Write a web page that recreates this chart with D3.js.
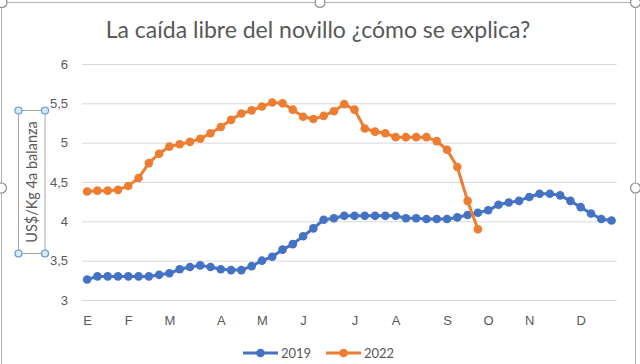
<!DOCTYPE html>
<html>
<head>
<meta charset="utf-8">
<script src="https://cdn.jsdelivr.net/npm/d3@7"></script>
<style>
  body { margin: 0; background: #fff; }
  svg { display: block; font-family: Lato, "Open Sans", sans-serif; }
</style>
</head>
<body>
<div id="chart"></div>
<script>
// weekly prices, US$/kg 4a balanza
const weeks = d3.range(52);
const monthLabels = ["E", "F", "M", "A", "M", "J", "J", "A", "S", "O", "N", "D"];
const monthWeeks = [0, 4, 8, 13, 17, 21, 26, 30, 35, 39, 43, 48];
const yTicks = [3, 3.5, 4, 4.5, 5, 5.5, 6];

const series2019 = [3.26, 3.30, 3.30, 3.30, 3.30, 3.30, 3.30, 3.32, 3.34, 3.39,
  3.42, 3.44, 3.42, 3.39, 3.38, 3.38, 3.43, 3.50, 3.55, 3.64,
  3.71, 3.81, 3.91, 4.02, 4.04, 4.07, 4.07, 4.07, 4.07, 4.07,
  4.07, 4.04, 4.04, 4.03, 4.03, 4.03, 4.05, 4.08, 4.11, 4.14,
  4.21, 4.24, 4.26, 4.31, 4.35, 4.35, 4.33, 4.26, 4.18, 4.10,
  4.03, 4.01];

const series2022 = [4.38, 4.39, 4.39, 4.40, 4.45, 4.55, 4.74, 4.86, 4.95, 4.98,
  5.01, 5.05, 5.12, 5.20, 5.29, 5.37, 5.41, 5.46, 5.51, 5.50,
  5.42, 5.33, 5.30, 5.34, 5.40, 5.49, 5.42, 5.18, 5.14, 5.12,
  5.07, 5.07, 5.07, 5.07, 5.02, 4.91, 4.69, 4.26, 3.90];

const seriesList = [
  { name: "2019", values: series2019, color: "#4472C4" },
  { name: "2022", values: series2022, color: "#ED7D31" }
];

const width = 640, height = 364;
const plot = { left: 82, right: 616.7, top: 64, bottom: 300 };
const textColor = "#595959";

const svg = d3.select("#chart").append("svg")
  .attr("width", width)
  .attr("height", height);

// chart area border (selected)
svg.append("rect")
  .attr("x", 1.5).attr("y", 2.5)
  .attr("width", 634).attr("height", 380)
  .attr("fill", "#fff")
  .attr("stroke", "#b3b3b3");

const xScale = d3.scalePoint().domain(weeks).range([plot.left, plot.right]).padding(0.5);
const yScale = d3.scaleLinear().domain([3, 6]).range([plot.bottom, plot.top]);

// gridlines + y labels
const yAxis = d3.axisLeft(yScale)
  .tickValues(yTicks)
  .tickSize(-(plot.right - plot.left))
  .tickPadding(14)
  .tickFormat(d => String(d).replace(".", ","));

const yG = svg.append("g")
  .attr("transform", `translate(${plot.left},0)`)
  .call(yAxis);
yG.select(".domain").remove();
yG.selectAll("line").attr("stroke", "#d9d9d9");
yG.selectAll("text")
  .attr("fill", textColor)
  .style("font-size", "13px");

// month labels
const xAxis = d3.axisBottom(xScale)
  .tickValues(monthWeeks)
  .tickSize(0)
  .tickPadding(16)
  .tickFormat(d => monthLabels[monthWeeks.indexOf(d)]);

const xG = svg.append("g")
  .attr("transform", `translate(0,${plot.bottom})`)
  .call(xAxis);
xG.select(".domain").remove();
xG.selectAll("text")
  .attr("fill", textColor)
  .style("font-size", "13px");

// lines and markers
const line = d3.line()
  .x((d, i) => xScale(weeks[i]))
  .y(d => yScale(d));

seriesList.forEach(s => {
  svg.append("path")
    .datum(s.values)
    .attr("d", line)
    .attr("fill", "none")
    .attr("stroke", s.color)
    .attr("stroke-width", 3)
    .attr("stroke-linejoin", "round");

  svg.append("g").selectAll("circle")
    .data(s.values)
    .enter()
    .append("circle")
      .attr("cx", (d, i) => xScale(weeks[i]))
      .attr("cy", d => yScale(d))
      .attr("r", 4.3)
      .attr("fill", s.color);
});

// title
svg.append("text")
  .attr("x", 318)
  .attr("y", 38)
  .attr("text-anchor", "middle")
  .attr("fill", textColor)
  .style("font-size", "23px")
  .text("La caída libre del novillo ¿cómo se explica?");

// y axis title in a selected text box
const boxX = 18.5, boxY = 110.5, boxW = 26.5, boxH = 143;
svg.append("rect")
  .attr("x", boxX).attr("y", boxY)
  .attr("width", boxW).attr("height", boxH)
  .attr("fill", "none")
  .attr("stroke", "#a6a6a6");

svg.append("text")
  .attr("transform", `translate(${boxX + boxW / 2 + 5},${boxY + boxH / 2}) rotate(-90)`)
  .attr("text-anchor", "middle")
  .attr("fill", textColor)
  .style("font-size", "14.5px")
  .text("US$/Kg 4a balanza");

[[boxX, boxY], [boxX + boxW, boxY], [boxX, boxY + boxH], [boxX + boxW, boxY + boxH]].forEach(p => {
  svg.append("circle")
    .attr("cx", p[0]).attr("cy", p[1]).attr("r", 3.5)
    .attr("fill", "#dbe8f8")
    .attr("stroke", "#5b9bd5")
    .attr("stroke-width", 1.2);
});

// chart selection handles
[[2, 2.5], [320, 2.5], [635.5, 2.5], [1.5, 188], [635.5, 188]].forEach(p => {
  svg.append("circle")
    .attr("cx", p[0]).attr("cy", p[1]).attr("r", 5)
    .attr("fill", "#fff")
    .attr("stroke", "#8c8c8c")
    .attr("stroke-width", 1.2);
});

// legend
const legendY = 353;
const legend = svg.append("g");
seriesList.forEach((s, i) => {
  const x0 = 243 + i * 83;
  legend.append("line")
    .attr("x1", x0).attr("x2", x0 + 35)
    .attr("y1", legendY).attr("y2", legendY)
    .attr("stroke", s.color)
    .attr("stroke-width", 3);
  legend.append("circle")
    .attr("cx", x0 + 17.5).attr("cy", legendY)
    .attr("r", 4.3)
    .attr("fill", s.color);
  legend.append("text")
    .attr("x", x0 + 38)
    .attr("y", legendY)
    .attr("dy", "0.35em")
    .attr("fill", textColor)
    .style("font-size", "13px")
    .text(s.name);
});
</script>
</body>
</html>
